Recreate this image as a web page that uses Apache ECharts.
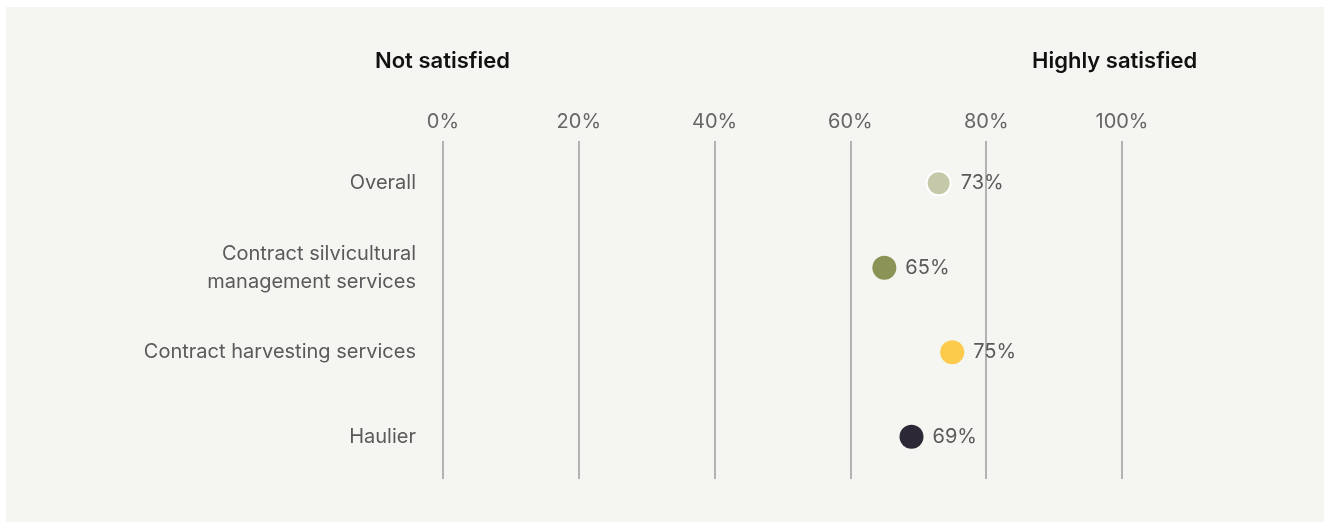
<!DOCTYPE html>
<html>
<head>
<meta charset="utf-8">
<script src="https://cdn.jsdelivr.net/npm/echarts@6/dist/echarts.min.js"></script>
<style>
html,body{margin:0;padding:0;background:#fff;}
#main{width:1330px;height:523px;}
</style>
</head>
<body>
<div id="main"></div>
<script>
// data
var categories = ['Overall', 'Contract silvicultural\nmanagement services', 'Contract harvesting services', 'Haulier'];
var scores = [73, 65, 75, 69];
var dotColors = ['#c5c8a9', '#8c9356', '#fccb4b', '#2d2835'];
var xTicks = [0, 20, 40, 60, 80, 100];

var myChart = echarts.init(document.getElementById('main'));

var points = scores.map(function(v, i){
	return {
		value: [v, categories[i]],
		itemStyle: {
			color: dotColors[i],
			opacity: 1,
			borderColor: i === 0 ? '#ffffff' : dotColors[i],
			borderWidth: i === 0 ? 2 : 0
		}
	};
});

myChart.setOption({
	backgroundColor: '#ffffff',
	textStyle: { fontFamily: 'Inter, "Noto Sans", sans-serif' },
	graphic: [{
		type: 'rect',
		z: -10,
		shape: { x: 6, y: 7, width: 1318, height: 515 },
		style: { fill: '#f5f5f1' }
	}],
	title: [{
		text: 'Not satisfied',
		left: 375, top: 50, padding: 0,
		textStyle: { fontSize: 22, fontWeight: 600, color: '#111' }
	}, {
		text: 'Highly satisfied',
		left: 1032, top: 50, padding: 0,
		textStyle: { fontSize: 22, fontWeight: 600, color: '#111' }
	}],
	grid: { left: 443, right: 208, top: 141, height: 338 },
	xAxis: {
		type: 'value',
		position: 'top',
		min: xTicks[0],
		max: xTicks[xTicks.length - 1],
		interval: 20,
		axisLine: { show: false },
		axisTick: { show: false },
		axisLabel: { formatter: '{value}%', fontSize: 20, color: '#666', margin: 9 },
		splitLine: { show: true, lineStyle: { color: '#b3b3b3', width: 2 } }
	},
	yAxis: {
		type: 'category',
		inverse: true,
		data: categories,
		axisLine: { show: false },
		axisTick: { show: false },
		axisLabel: { fontSize: 20, color: '#5a5a5a', margin: 27, lineHeight: 28, align: 'right' }
	},
	series: [{
		type: 'scatter',
		symbolSize: 24,
		data: points,
		label: {
			show: true,
			position: 'right',
			distance: 9,
			fontSize: 20,
			color: '#5a5a5a',
			formatter: function(p){ return p.value[0] + '%'; }
		}
	}]
});
</script>
</body>
</html>
